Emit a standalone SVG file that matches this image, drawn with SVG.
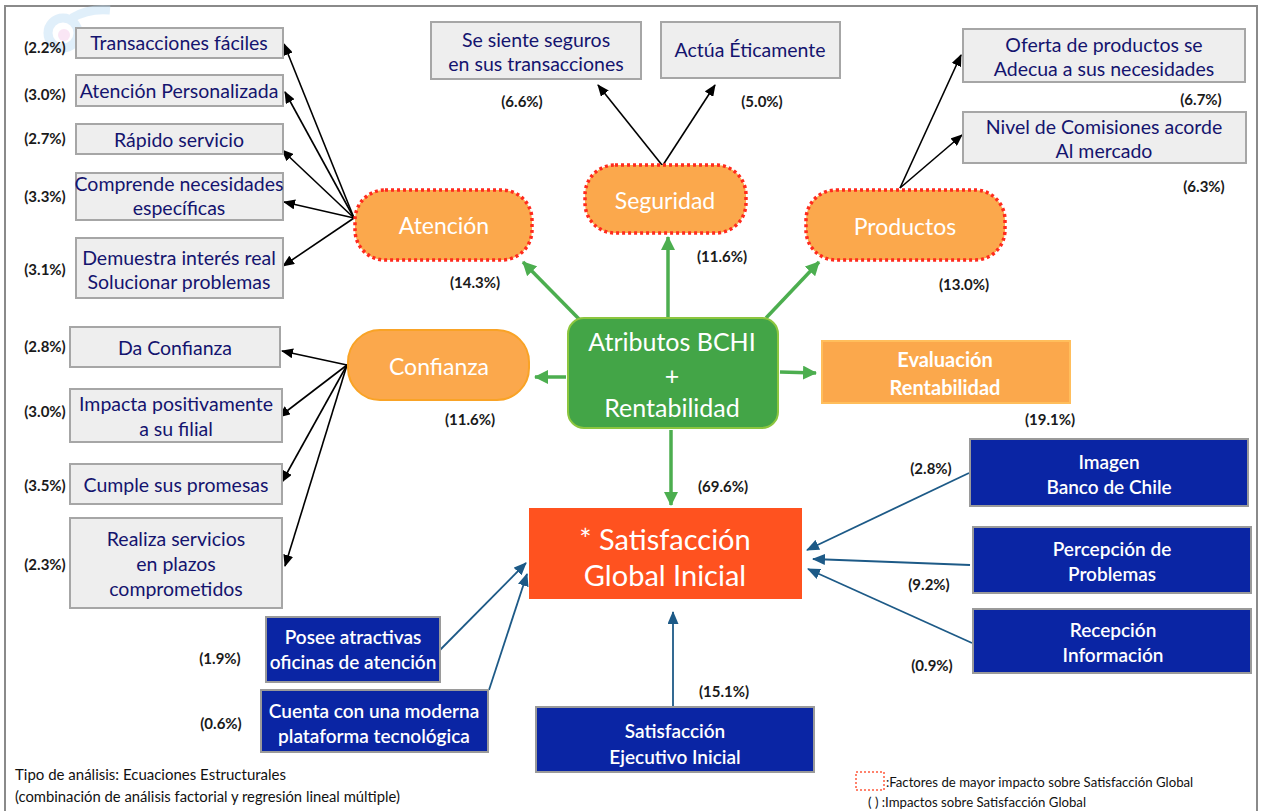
<svg xmlns="http://www.w3.org/2000/svg" width="1264" height="811" viewBox="0 0 1264 811">
  <defs>
    <marker id="ahBlack" markerUnits="userSpaceOnUse" markerWidth="12" markerHeight="10" refX="11" refY="5" orient="auto">
      <path d="M0,0 L12,5 L0,10 z" fill="#000"/>
    </marker>
    <marker id="ahGreen" markerUnits="userSpaceOnUse" markerWidth="14" markerHeight="14" refX="13" refY="7" orient="auto">
      <path d="M0,0 L14,7 L0,14 z" fill="#4cae4f"/>
    </marker>
    <marker id="ahBlue" markerUnits="userSpaceOnUse" markerWidth="13" markerHeight="11" refX="12" refY="5.5" orient="auto">
      <path d="M0,0 L13,5.5 L0,11 z" fill="#1d5a87"/>
    </marker>
  </defs>
  <style>
    text { font-family: Lato, "Open Sans", "Liberation Sans", sans-serif; }
    .gbox { fill: #eeeeee; stroke: #a6a6a6; stroke-width: 2; }
    .gtxt { fill: #14146e; font-size: 19.5px; text-anchor: middle; }
    .pill { fill: #fba84c; stroke: #ff2a1e; stroke-width: 3.5; stroke-dasharray: 3 3; }
    .pillSolid { fill: #fba84c; stroke: #f9a326; stroke-width: 2; }
    .ptxt { fill: #ffffff; font-size: 23px; text-anchor: middle; }
    .pct { fill: #1a1a1a; font-size: 15px; font-weight: bold; text-anchor: middle; }
    .bbox { fill: #0a25a4; stroke: #9a9a9a; stroke-width: 2; }
    .btxt { fill: #ffffff; font-size: 19px; font-weight: 600; text-anchor: middle; }
    .blk { stroke: #000; stroke-width: 1.6; fill: none; marker-end: url(#ahBlack); }
    .grn { stroke: #4cae4f; stroke-width: 3.5; fill: none; marker-end: url(#ahGreen); }
    .blu { stroke: #1d5a87; stroke-width: 1.8; fill: none; marker-end: url(#ahBlue); }
  </style>

  <rect x="0" y="0" width="1264" height="811" fill="#ffffff"/>
  <!-- page frame -->
  <rect x="5" y="6" width="1252" height="820" fill="none" stroke="#8a8a8a" stroke-width="2"/>

  <!-- faint logo watermark -->
  <g id="watermark" opacity="0.45">
    <circle cx="63" cy="33" r="15" fill="none" stroke="#bcdcf5" stroke-width="9"/>
    <path d="M72,18 Q88,8 110,10" fill="none" stroke="#bcdcf5" stroke-width="9"/>
    <circle cx="64" cy="35" r="6" fill="#f6c8ea"/>
  </g>

  <!-- connectors -->
  <g id="connectors">
    <!-- Atención branches -->
    <line class="blk" x1="354" y1="218" x2="284" y2="44"/>
    <line class="blk" x1="354" y1="218" x2="285" y2="92"/>
    <line class="blk" x1="354" y1="218" x2="282" y2="150"/>
    <line class="blk" x1="354" y1="218" x2="284" y2="202"/>
    <line class="blk" x1="354" y1="218" x2="283" y2="266"/>
    <!-- Seguridad branches -->
    <line class="blk" x1="662" y1="165" x2="598" y2="85"/>
    <line class="blk" x1="663" y1="165" x2="715" y2="85"/>
    <!-- Productos branches -->
    <line class="blk" x1="900" y1="188" x2="961" y2="55"/>
    <line class="blk" x1="900" y1="188" x2="962" y2="135"/>
    <!-- Confianza branches -->
    <line class="blk" x1="347" y1="365" x2="282" y2="351"/>
    <line class="blk" x1="347" y1="365" x2="279" y2="417"/>
    <line class="blk" x1="347" y1="365" x2="282" y2="482"/>
    <line class="blk" x1="347" y1="365" x2="285" y2="566"/>
    <!-- central green arrows -->
    <line class="grn" x1="579" y1="319" x2="523" y2="262"/>
    <line class="grn" x1="668" y1="317" x2="668" y2="237"/>
    <line class="grn" x1="766" y1="318" x2="819" y2="262"/>
    <line class="grn" x1="566" y1="377" x2="535" y2="377"/>
    <line class="grn" x1="780" y1="372" x2="816" y2="373"/>
    <line class="grn" x1="671" y1="430" x2="671" y2="505"/>
    <!-- drivers into Satisfacción Global -->
    <line class="blu" x1="969" y1="473" x2="807" y2="550"/>
    <line class="blu" x1="970" y1="565" x2="813" y2="559"/>
    <line class="blu" x1="972" y1="643" x2="808" y2="569"/>
    <line class="blu" x1="673" y1="706" x2="673" y2="612"/>
    <line class="blu" x1="440" y1="650" x2="526" y2="563"/>
    <line class="blu" x1="489" y1="690" x2="527" y2="574"/>
  </g>

  <!-- Atención group -->
  <g id="n-atencion">
    <rect class="pill" x="355" y="190" width="177" height="70" rx="30"/>
    <text class="ptxt" x="444" y="234">Atención</text>
    <text class="pct" x="475" y="288">(14.3%)</text>
  </g>
  <g id="n-transacciones">
    <rect class="gbox" x="76" y="28" width="207" height="30"/>
    <text class="gtxt" x="179" y="50">Transacciones fáciles</text>
    <text class="pct" x="45" y="53">(2.2%)</text>
  </g>
  <g id="n-personalizada">
    <rect class="gbox" x="76" y="75" width="207" height="31"/>
    <text class="gtxt" x="179" y="98">Atención Personalizada</text>
    <text class="pct" x="45" y="100">(3.0%)</text>
  </g>
  <g id="n-rapido">
    <rect class="gbox" x="76" y="124" width="207" height="30"/>
    <text class="gtxt" x="179" y="147">Rápido servicio</text>
    <text class="pct" x="45" y="144">(2.7%)</text>
  </g>
  <g id="n-comprende">
    <rect class="gbox" x="76" y="173" width="207" height="47"/>
    <text class="gtxt" x="179" y="191">Comprende necesidades</text>
    <text class="gtxt" x="179" y="215">específicas</text>
    <text class="pct" x="45" y="202">(3.3%)</text>
  </g>
  <g id="n-demuestra">
    <rect class="gbox" x="76" y="238" width="207" height="60"/>
    <text class="gtxt" x="179" y="265">Demuestra interés real</text>
    <text class="gtxt" x="179" y="289">Solucionar problemas</text>
    <text class="pct" x="45" y="275">(3.1%)</text>
  </g>

  <!-- Seguridad group -->
  <g id="n-seguridad">
    <rect class="pill" x="585" y="165" width="161" height="68" rx="30"/>
    <text class="ptxt" x="665" y="209">Seguridad</text>
    <text class="pct" x="722" y="262">(11.6%)</text>
  </g>
  <g id="n-seguros">
    <rect class="gbox" x="431" y="22" width="210" height="57"/>
    <text class="gtxt" x="536" y="47">Se siente seguros</text>
    <text class="gtxt" x="536" y="71">en sus transacciones</text>
    <text class="pct" x="522" y="107">(6.6%)</text>
  </g>
  <g id="n-eticamente">
    <rect class="gbox" x="661" y="22" width="179" height="56"/>
    <text class="gtxt" x="750" y="57">Actúa Éticamente</text>
    <text class="pct" x="762" y="107">(5.0%)</text>
  </g>

  <!-- Productos group -->
  <g id="n-productos">
    <rect class="pill" x="806" y="190" width="199" height="70" rx="30"/>
    <text class="ptxt" x="905" y="235">Productos</text>
    <text class="pct" x="964" y="290">(13.0%)</text>
  </g>
  <g id="n-oferta">
    <rect class="gbox" x="963" y="29" width="282" height="53"/>
    <text class="gtxt" x="1104" y="52">Oferta de productos se</text>
    <text class="gtxt" x="1104" y="76">Adecua a sus necesidades</text>
    <text class="pct" x="1201" y="105">(6.7%)</text>
  </g>
  <g id="n-comisiones">
    <rect class="gbox" x="963" y="112" width="283" height="51"/>
    <text class="gtxt" x="1104" y="134">Nivel de Comisiones acorde</text>
    <text class="gtxt" x="1104" y="158">Al mercado</text>
    <text class="pct" x="1204" y="192">(6.3%)</text>
  </g>

  <!-- Confianza group -->
  <g id="n-confianza">
    <rect class="pillSolid" x="348" y="330" width="181" height="70" rx="32"/>
    <text class="ptxt" x="439" y="375">Confianza</text>
    <text class="pct" x="470" y="425">(11.6%)</text>
  </g>
  <g id="n-da-confianza">
    <rect class="gbox" x="70" y="327" width="210" height="40"/>
    <text class="gtxt" x="175" y="355">Da Confianza</text>
    <text class="pct" x="45" y="352">(2.8%)</text>
  </g>
  <g id="n-impacta">
    <rect class="gbox" x="70" y="389" width="212" height="53"/>
    <text class="gtxt" x="176" y="411">Impacta positivamente</text>
    <text class="gtxt" x="176" y="436">a su filial</text>
    <text class="pct" x="45" y="417">(3.0%)</text>
  </g>
  <g id="n-cumple">
    <rect class="gbox" x="70" y="464" width="212" height="40"/>
    <text class="gtxt" x="176" y="492">Cumple sus promesas</text>
    <text class="pct" x="45" y="491">(3.5%)</text>
  </g>
  <g id="n-realiza">
    <rect class="gbox" x="70" y="518" width="212" height="90"/>
    <text class="gtxt" x="176" y="546">Realiza servicios</text>
    <text class="gtxt" x="176" y="571">en plazos</text>
    <text class="gtxt" x="176" y="596">comprometidos</text>
    <text class="pct" x="45" y="570">(2.3%)</text>
  </g>

  <!-- central node -->
  <g id="n-atributos">
    <rect x="568" y="318" width="210" height="110" rx="16" fill="#43a547" stroke="#8cc63f" stroke-width="2"/>
    <text class="ptxt" x="672" y="351" style="font-size:25px">Atributos BCHI</text>
    <text class="ptxt" x="672" y="385" style="font-size:25px">+</text>
    <text class="ptxt" x="672" y="417" style="font-size:25px">Rentabilidad</text>
  </g>

  <!-- Evaluación Rentabilidad -->
  <g id="n-evaluacion">
    <rect x="822" y="341" width="248" height="62" fill="#fba84c" stroke="#ffbe5c" stroke-width="2"/>
    <text class="ptxt" x="945" y="367" style="font-weight:bold;font-size:20px">Evaluación</text>
    <text class="ptxt" x="945" y="395" style="font-weight:bold;font-size:20px">Rentabilidad</text>
    <text class="pct" x="1050" y="425">(19.1%)</text>
  </g>

  <!-- Satisfacción Global Inicial -->
  <g id="n-satisfaccion-global">
    <rect x="529" y="508" width="273" height="91" fill="#ff521f"/>
    <text class="ptxt" x="665" y="550" style="font-size:29px">* Satisfacción</text>
    <text class="ptxt" x="665" y="586" style="font-size:29px">Global Inicial</text>
    <text class="pct" x="723" y="492">(69.6%)</text>
  </g>

  <!-- right-hand drivers -->
  <g id="n-imagen">
    <rect class="bbox" x="970" y="439" width="278" height="67"/>
    <text class="btxt" x="1109" y="469">Imagen</text>
    <text class="btxt" x="1109" y="494">Banco de Chile</text>
    <text class="pct" x="931" y="474">(2.8%)</text>
  </g>
  <g id="n-percepcion">
    <rect class="bbox" x="973" y="527" width="278" height="66"/>
    <text class="btxt" x="1112" y="556">Percepción de</text>
    <text class="btxt" x="1112" y="581">Problemas</text>
    <text class="pct" x="929" y="590">(9.2%)</text>
  </g>
  <g id="n-recepcion">
    <rect class="bbox" x="973" y="609" width="278" height="64"/>
    <text class="btxt" x="1113" y="637">Recepción</text>
    <text class="btxt" x="1113" y="662">Información</text>
    <text class="pct" x="932" y="671">(0.9%)</text>
  </g>

  <!-- bottom drivers -->
  <g id="n-ejecutivo">
    <rect class="bbox" x="536" y="707" width="278" height="65"/>
    <text class="btxt" x="675" y="738">Satisfacción</text>
    <text class="btxt" x="675" y="764">Ejecutivo Inicial</text>
    <text class="pct" x="724" y="697">(15.1%)</text>
  </g>
  <g id="n-oficinas">
    <rect class="bbox" x="266" y="617" width="174" height="65"/>
    <text class="btxt" x="353" y="644">Posee atractivas</text>
    <text class="btxt" x="353" y="669">oficinas de atención</text>
    <text class="pct" x="220" y="664">(1.9%)</text>
  </g>
  <g id="n-plataforma">
    <rect class="bbox" x="261" y="690" width="227" height="62"/>
    <text class="btxt" x="374" y="718">Cuenta con una moderna</text>
    <text class="btxt" x="374" y="743">plataforma tecnológica</text>
    <text class="pct" x="221" y="729">(0.6%)</text>
  </g>

  <!-- notes -->
  <g id="caption">
    <text x="15" y="780" font-size="15" fill="#111">Tipo de análisis: Ecuaciones Estructurales</text>
    <text x="15" y="802" font-size="14.8" fill="#111">(combinación de análisis factorial y regresión lineal múltiple)</text>
  </g>
  <g id="legend">
    <rect x="856" y="772" width="28" height="18" fill="none" stroke="#ff5a3c" stroke-width="1.5" stroke-dasharray="2 2"/>
    <text x="886" y="787" font-size="13.2" fill="#111">:Factores de mayor impacto sobre Satisfacción Global</text>
    <text x="868" y="807" font-size="13.2" fill="#111">( ) :Impactos sobre Satisfacción Global</text>
  </g>
</svg>
